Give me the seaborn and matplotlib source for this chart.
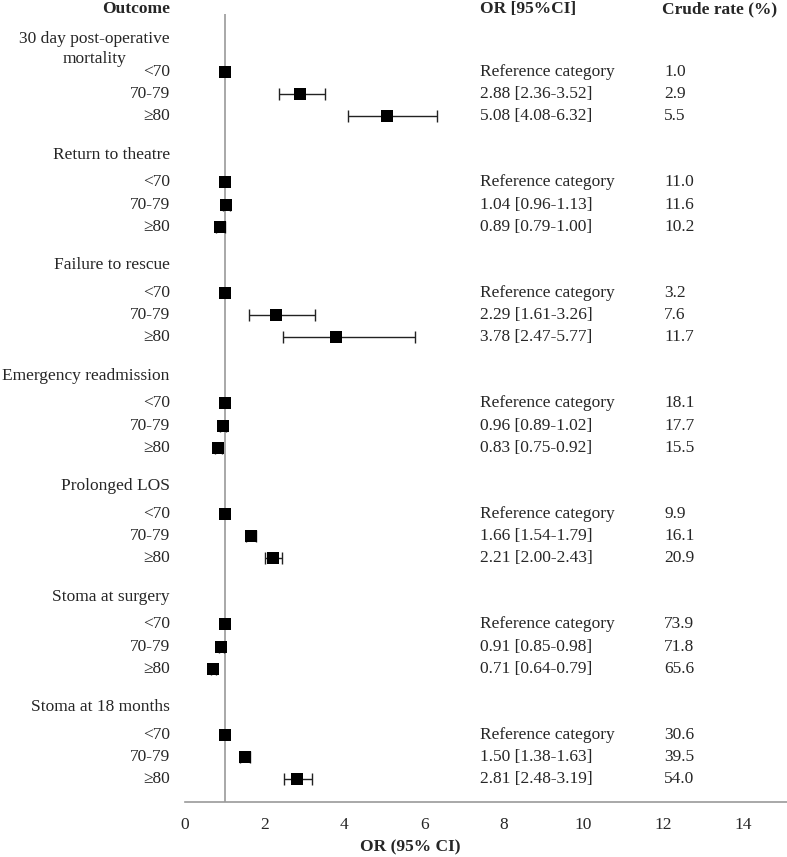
import numpy as np
import pandas as pd
import matplotlib
matplotlib.use("Agg")
import matplotlib.pyplot as plt
import seaborn as sns

# --- data ---
outcomes = ["30 day post-operative\nmortality", "Return to theatre", "Failure to rescue",
            "Emergency readmission", "Prolonged LOS", "Stoma at surgery", "Stoma at 18 months"]
age_groups = ["<70", "70-79", "\u226580"]

odds_ratio = [[1.00, 2.88, 5.08], [1.00, 1.04, 0.89], [1.00, 2.29, 3.78], [1.00, 0.96, 0.83],
              [1.00, 1.66, 2.21], [1.00, 0.91, 0.71], [1.00, 1.50, 2.81]]
ci_low = [[None, 2.36, 4.08], [None, 0.96, 0.79], [None, 1.61, 2.47], [None, 0.89, 0.75],
          [None, 1.54, 2.00], [None, 0.85, 0.64], [None, 1.38, 2.48]]
ci_high = [[None, 3.52, 6.32], [None, 1.13, 1.00], [None, 3.26, 5.77], [None, 1.02, 0.92],
           [None, 1.79, 2.43], [None, 0.98, 0.79], [None, 1.63, 3.19]]
crude_rate = [[1.0, 2.9, 5.5], [11.0, 11.6, 10.2], [3.2, 7.6, 11.7], [18.1, 17.7, 15.5],
              [9.9, 16.1, 20.9], [73.9, 71.8, 65.6], [30.6, 39.5, 54.0]]
x_ticks = [0, 2, 4, 6, 8, 10, 12, 14]

# layout in row units (one row = one line of text)
GROUP_STEP = 5
HEAD_OFF = 1.38
ROW_OFF = 2.62
LABEL_X = -0.38
OR_X = 7.4
RATE_X = 12.02

rows = []
for g, name in enumerate(outcomes):
    for k, age in enumerate(age_groups):
        rows.append({"outcome": name, "age": age, "y": g * GROUP_STEP + ROW_OFF + k,
                     "OR": odds_ratio[g][k], "lo": ci_low[g][k], "hi": ci_high[g][k],
                     "rate": crude_rate[g][k]})
df = pd.DataFrame(rows)

sns.set_style("white")
plt.rcParams["font.family"] = ["Liberation Serif", "DejaVu Serif"]
fs = 12.5
plt.rcParams["font.size"] = fs

fig = plt.figure(figsize=(7.87, 8.57), dpi=100)
ax = fig.add_axes([185 / 787, 1 - 802 / 857, 1 - 185 / 787, (802 - 14) / 857])

grey = "#9a9a9a"
ax.axvline(1, color=grey, lw=1.2, zorder=1)

ci = df.dropna(subset=["lo"])
ax.errorbar(ci["OR"], ci["y"], xerr=[ci["OR"] - ci["lo"], ci["hi"] - ci["OR"]],
            fmt="none", ecolor="#222222", elinewidth=1.0, capsize=4, capthick=1.0, zorder=2)
sns.scatterplot(data=df, x="OR", y="y", marker="s", color="black", s=66,
                edgecolor="black", linewidth=0, ax=ax, zorder=3, legend=False)

ax.set_xlim(0, (787 - 185) / 39.86)
ax.set_ylim((802 - 14) / 22.1, 0)

# column headers
ax.text(LABEL_X, -0.22, "Outcome", ha="right", va="center", fontweight="bold", fontsize=fs, clip_on=False)
ax.text(OR_X, -0.22, "OR [95%CI]", ha="left", va="center", fontweight="bold", fontsize=fs, clip_on=False)
ax.text(RATE_X - 0.05, -0.22, "Crude rate (%)", ha="left", va="center", fontweight="bold",
        fontsize=fs, clip_on=False)

# outcome headings; a wrapped heading gets its second line centred under the first
renderer = fig.canvas.get_renderer()
for g, name in enumerate(outcomes):
    lines = name.split("\n")
    if len(lines) == 1:
        ax.text(LABEL_X, g * GROUP_STEP + HEAD_OFF, name, ha="right", va="center",
                fontsize=fs, clip_on=False)
    else:
        y0 = g * GROUP_STEP + HEAD_OFF - 0.25
        t = ax.text(LABEL_X, y0, lines[0], ha="right", va="center", fontsize=fs, clip_on=False)
        bb = t.get_window_extent(renderer=renderer)
        xc = ax.transData.inverted().transform(((bb.x0 + bb.x1) / 2, 0))[0]
        for i, ln in enumerate(lines[1:], start=1):
            ax.text(xc, y0 + 0.9 * i, ln, ha="center", va="center", fontsize=fs, clip_on=False)

for _, r in df.iterrows():
    ax.text(LABEL_X, r["y"], r["age"], ha="right", va="center", fontsize=fs, clip_on=False)
    if pd.isna(r["lo"]):
        or_txt = "Reference category"
    else:
        or_txt = f"{r['OR']:.2f} [{r['lo']:.2f}-{r['hi']:.2f}]"
    ax.text(OR_X, r["y"], or_txt, ha="left", va="center", fontsize=fs)
    ax.text(RATE_X, r["y"], f"{r['rate']:.1f}", ha="left", va="center", fontsize=fs)

ax.set_xticks(x_ticks)
ax.set_yticks([])
ax.set_ylabel("")
ax.set_xlabel("OR (95% CI)", fontweight="bold", fontsize=fs)
ax.xaxis.set_label_coords((410 - 185) / (787 - 185), -0.047)
ax.tick_params(axis="x", direction="out", length=5, color=grey, width=1, labelsize=fs, pad=6)
for side in ["top", "right", "left"]:
    ax.spines[side].set_visible(False)
ax.spines["bottom"].set_color(grey)
ax.spines["bottom"].set_linewidth(1.2)

fig.savefig("out.png", dpi=100)
